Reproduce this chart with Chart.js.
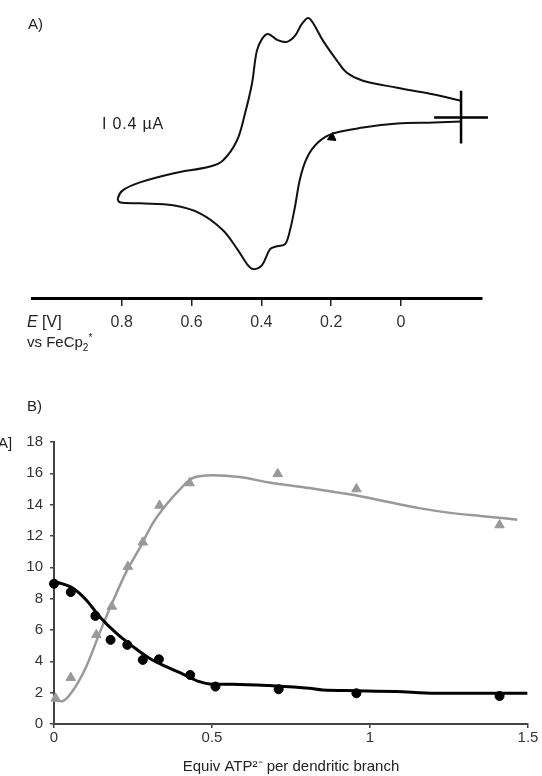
<!DOCTYPE html>
<html>
<head>
<meta charset="utf-8">
<script src="https://cdn.jsdelivr.net/npm/chart.js@4.4.1/dist/chart.umd.min.js"></script>
<style>
body{margin:0;background:#fff;width:542px;height:776px;position:relative;overflow:hidden;font-family:"Liberation Sans",Arial,sans-serif;color:#222}
#cvA{position:absolute;left:0;top:0}
#cvB{position:absolute;left:0;top:380px}
.lbl{position:absolute;white-space:nowrap;line-height:1;font-size:14px}
</style>
</head>
<body>
<canvas id="cvA" width="542" height="360"></canvas>
<canvas id="cvB" width="542" height="396"></canvas>
<div class="lbl" style="left:28px;top:16px;font-size:15px">A)</div>
<div class="lbl" style="left:102px;top:116px;font-size:16px;letter-spacing:0.8px">I&nbsp;0.4 µA</div>
<div class="lbl" style="left:27px;top:314px;font-size:16px"><i>E</i> [V]</div>
<div class="lbl" style="left:27px;top:333px;font-size:15px">vs FeCp<sub style="font-size:10px">2</sub><sup style="font-size:10px">*</sup></div>
<div class="lbl" style="left:27px;top:398px;font-size:15px">B)</div>
<div class="lbl" style="left:-2px;top:435px;font-size:15px">A]</div>
<script>
// A) voltammogramme : potentiel (V) et courant (µA)
const cvE = [-0.172, -0.083, 0.011, 0.109, 0.155, 0.183, 0.223, 0.252, 0.266, 0.284, 0.304, 0.327, 0.355, 0.381, 0.398, 0.413, 0.427, 0.447, 0.470, 0.510, 0.547, 0.653, 0.748, 0.797, 0.811, 0.805,
             0.748, 0.653, 0.576, 0.510, 0.467, 0.441, 0.424, 0.398, 0.375, 0.355, 0.332, 0.318, 0.304, 0.289, 0.269, 0.238, 0.195, 0.109, 0.011, -0.095, -0.172];
const cvI = [0.51, 0.72, 0.90, 1.11, 1.35, 1.71, 2.31, 2.85, 3.00, 2.82, 2.46, 2.28, 2.34, 2.52, 2.37, 2.01, 1.02, 0.12, -0.69, -1.29, -1.47, -1.68, -1.95, -2.19, -2.43, -2.55,
             -2.58, -2.64, -2.88, -3.39, -3.99, -4.41, -4.56, -4.44, -3.96, -3.87, -3.81, -3.39, -2.70, -1.83, -1.20, -0.75, -0.48, -0.30, -0.18, -0.15, -0.12];
const xTicksA = [0, 0.2, 0.4, 0.6, 0.8];
// croix de référence et flèche de balayage
const crossVE = [-0.172, -0.172];
const crossVI = [0.81, -0.78];
const crossHE = [-0.095, -0.249];
const crossHI = [0, 0];
const arrowE = [0.198];
const arrowI = [-0.60];

// B) titrage
const circX = [0, 0.053, 0.131, 0.179, 0.232, 0.281, 0.332, 0.431, 0.511, 0.711, 0.957, 1.41];
const circY = [8.95, 8.42, 6.9, 5.37, 5.05, 4.09, 4.13, 3.13, 2.39, 2.22, 1.96, 1.79];
const triX = [0.005, 0.053, 0.134, 0.183, 0.234, 0.281, 0.334, 0.429, 0.708, 0.957, 1.41];
const triY = [1.64, 2.96, 5.69, 7.5, 10.05, 11.6, 13.95, 15.38, 15.97, 15.0, 12.7];
const fitBlackX = [0, 0.06, 0.102, 0.144, 0.197, 0.25, 0.302, 0.355, 0.408, 0.46, 0.492, 0.566, 0.681, 0.808, 0.85, 0.956, 1.082, 1.208, 1.498];
const fitBlackY = [9.1, 8.67, 7.92, 6.86, 5.8, 4.94, 4.2, 3.66, 3.19, 2.7, 2.56, 2.54, 2.45, 2.28, 2.17, 2.13, 2.07, 1.96, 1.96];
const fitGrayX = [0, 0.025, 0.055, 0.102, 0.144, 0.186, 0.229, 0.271, 0.313, 0.355, 0.397, 0.439, 0.502, 0.587, 0.681, 0.808, 0.945, 1.05, 1.155, 1.26, 1.366, 1.466];
const fitGrayY = [1.5, 1.45, 2.0, 3.66, 5.8, 7.82, 9.73, 11.23, 12.82, 13.99, 14.95, 15.7, 15.87, 15.76, 15.42, 15.06, 14.63, 14.2, 13.78, 13.46, 13.25, 13.04];
const xTicksB = [0, 0.5, 1, 1.5];

const police = '"Liberation Sans", Arial, sans-serif';
const pts = (xs, ys) => xs.map((x, i) => ({x: x, y: ys[i]}));

new Chart(document.getElementById('cvA'), {
    type: 'scatter',
    data: {
        datasets: [
            {data: pts(cvE, cvI), showLine: true, borderColor: '#111', borderWidth: 2, pointRadius: 0, tension: 0.35},
            {data: pts(crossVE, crossVI), showLine: true, borderColor: '#000', borderWidth: 2.5, pointRadius: 0, clip: false},
            {data: pts(crossHE, crossHI), showLine: true, borderColor: '#000', borderWidth: 2.5, pointRadius: 0, clip: false},
            {data: pts(arrowE, arrowI), pointStyle: 'triangle', pointRotation: 245, pointRadius: 5, backgroundColor: '#000', borderColor: '#000'}
        ]
    },
    options: {
        responsive: false,
        animation: false,
        layout: {padding: {left: 32, right: 60, top: 5, bottom: 0}},
        plugins: {legend: {display: false}, tooltip: {enabled: false}},
        scales: {
            x: {
                type: 'linear', reverse: true, min: -0.232, max: 1.057,
                afterBuildTicks: s => { s.ticks = xTicksA.map(v => ({value: v})); },
                afterFit: s => { s.height = 62; },
                grid: {drawOnChartArea: false, drawTicks: true, tickLength: 8, color: '#222', lineWidth: 1.5},
                border: {display: true, color: '#000', width: 3},
                ticks: {color: '#333', padding: 7, maxRotation: 0, autoSkip: false, font: {size: 16, family: police},
                        callback: v => v === 0 ? '0' : v.toFixed(1)}
            },
            y: {display: false, min: -5.43, max: 3.36}
        }
    }
});

new Chart(document.getElementById('cvB'), {
    type: 'scatter',
    data: {
        datasets: [
            {data: pts(circX, circY), pointStyle: 'circle', pointRadius: 4.5, backgroundColor: '#000', borderColor: '#000', clip: false},
            {data: pts(triX, triY), pointStyle: 'triangle', pointRadius: 5.5, backgroundColor: '#999', borderColor: '#999', clip: false},
            {data: pts(fitBlackX, fitBlackY), showLine: true, borderColor: '#000', borderWidth: 3, pointRadius: 0, cubicInterpolationMode: 'monotone'},
            {data: pts(fitGrayX, fitGrayY), showLine: true, borderColor: '#999', borderWidth: 2.5, pointRadius: 0, cubicInterpolationMode: 'monotone'}
        ]
    },
    options: {
        responsive: false,
        animation: false,
        layout: {padding: {left: 0, right: 14, top: 62, bottom: 0}},
        plugins: {legend: {display: false}, tooltip: {enabled: false}},
        scales: {
            x: {
                type: 'linear', min: 0, max: 1.5,
                afterBuildTicks: s => { s.ticks = xTicksB.map(v => ({value: v})); },
                afterFit: s => { s.height = 52; },
                grid: {drawOnChartArea: false, tickLength: 4, color: '#444', lineWidth: 1.5},
                border: {color: '#444', width: 2},
                ticks: {color: '#333', padding: 1, maxRotation: 0, font: {size: 15, family: police}, callback: v => String(v)},
                title: {display: true, text: 'Equiv ATP²⁻ per dendritic branch', color: '#222', padding: 0, font: {size: 15, family: police}}
            },
            y: {
                min: 0, max: 18,
                afterFit: s => { s.width = 54; },
                grid: {drawOnChartArea: false, tickLength: 4, color: '#444', lineWidth: 1.5},
                border: {color: '#444', width: 2},
                ticks: {stepSize: 2, color: '#333', padding: 7, font: {size: 15, family: police}}
            }
        }
    }
});
</script>
</body>
</html>
